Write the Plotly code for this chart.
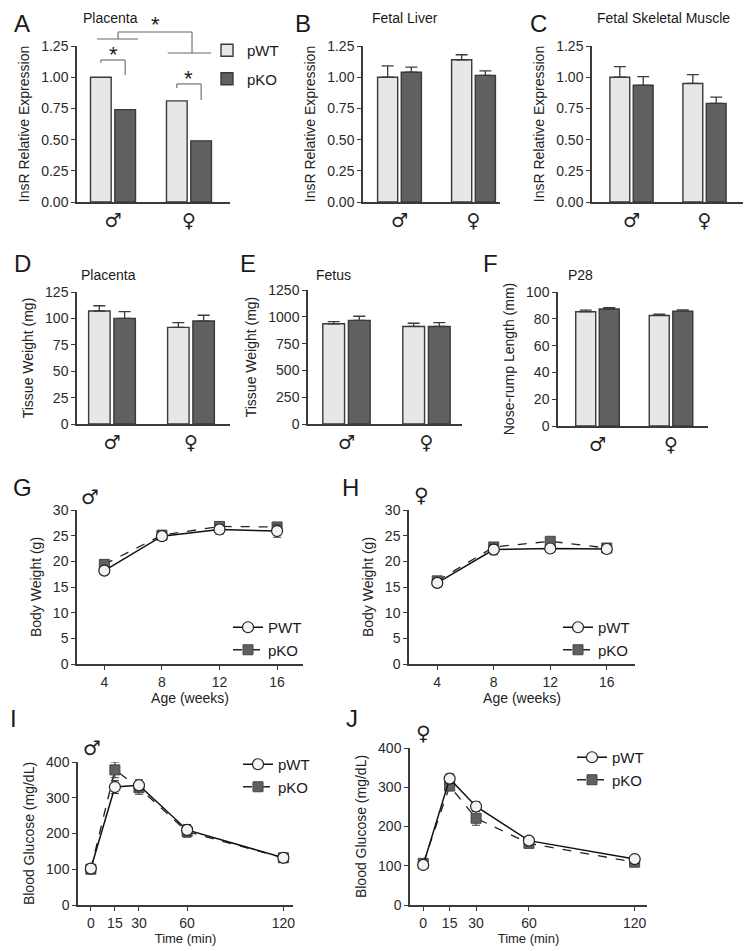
import plotly.graph_objects as go

W, H = 751, 951
OFF = 8  # page body margin that shifts the figure on screen

# ---- data ----
sexes = [0, 1]
sex_labels = ["♂", "♀"]

# A: placenta InsR
a_wt = [1.00, 0.81]
a_ko = [0.74, 0.49]
# B: fetal liver
b_wt = [1.00, 1.14]
b_wt_err = [0.09, 0.04]
b_ko = [1.04, 1.015]
b_ko_err = [0.04, 0.035]
# C: fetal skeletal muscle
c_wt = [1.00, 0.95]
c_wt_err = [0.085, 0.07]
c_ko = [0.935, 0.79]
c_ko_err = [0.07, 0.05]
# D: placenta weight
d_wt = [107, 91.5]
d_wt_err = [5, 4.5]
d_ko = [100, 97.5]
d_ko_err = [6.5, 5.5]
# E: fetus weight
e_wt = [935, 910]
e_wt_err = [20, 30]
e_ko = [967, 910]
e_ko_err = [38, 35]
# F: P28 nose-rump
f_wt = [85.3, 82.5]
f_wt_err = [1.2, 0.9]
f_ko = [87.3, 85.6]
f_ko_err = [1.0, 1.0]

weeks = [4, 8, 12, 16]
g_wt = [18.2, 24.9, 26.2, 25.9]
g_wt_err = [0.5, 0.5, 0.9, 1.2]
g_ko = [19.4, 25.1, 26.8, 26.7]
g_ko_err = [0.4, 0.4, 0.4, 0.4]
h_wt = [15.8, 22.3, 22.5, 22.4]
h_wt_err = [0.4, 1.0, 0.3, 0.3]
h_ko = [16.2, 22.8, 23.9, 22.6]
h_ko_err = [0.4, 0.4, 0.4, 0.4]

minutes = [0, 15, 30, 60, 120]
i_wt = [102, 330, 335, 210, 132]
i_wt_err = [8, 18, 15, 15, 8]
i_ko = [100, 378, 328, 205, 132]
i_ko_err = [6, 22, 18, 15, 8]
j_wt = [102, 322, 251, 164, 117]
j_wt_err = [6, 12, 12, 6, 6]
j_ko = [106, 303, 221, 157, 109]
j_ko_err = [6, 10, 18, 6, 6]

WT_COL = "#e6e7e8"
KO_COL = "#5f6061"
AX_COL = "#3a3a3a"
FONT = "Liberation Sans, Arial, sans-serif"

# panel boxes in screen pixels: x0, x1, y_top, y_bottom
panels = {
    "A": dict(box=(77, 230, 46, 202), xr=[-0.474, 1.54], yr=[0, 1.25]),
    "B": dict(box=(363, 500, 46, 202), xr=[-0.493, 1.358], yr=[0, 1.25]),
    "C": dict(box=(592, 743, 46, 202), xr=[-0.541, 1.527], yr=[0, 1.25]),
    "D": dict(box=(77, 230, 292, 424), xr=[-0.443, 1.494], yr=[0, 125]),
    "E": dict(box=(308, 462, 290, 424), xr=[-0.481, 1.444], yr=[0, 1250]),
    "F": dict(box=(558, 708, 292, 426), xr=[-0.537, 1.503], yr=[0, 100]),
    "G": dict(box=(77, 303, 510, 664), xr=[2.1, 17.8], yr=[0, 30]),
    "H": dict(box=(409, 635, 510, 664), xr=[2.0, 18.0], yr=[0, 30]),
    "I": dict(box=(78, 293, 762, 905), xr=[-8, 126], yr=[0, 400]),
    "J": dict(box=(410, 647, 748, 905), xr=[-7.5, 127], yr=[0, 400]),
}
order = list(panels.keys())


def px(x):
    return (x - OFF) / W


def py(y):
    return 1 - (y - OFF) / H


def dom(p):
    x0, x1, yt, yb = p["box"]
    return [px(x0), px(x1)], [py(yb), py(yt)]


def to_paper(p, xv, yv):
    (dx0, dx1), (dy0, dy1) = dom(p)
    r0, r1 = p["xr"]
    s0, s1 = p["yr"]
    return (dx0 + (xv - r0) / (r1 - r0) * (dx1 - dx0),
            dy0 + (yv - s0) / (s1 - s0) * (dy1 - dy0))


def ax_names(k):
    return ("x" if k == 1 else "x%d" % k), ("y" if k == 1 else "y%d" % k)


fig = go.Figure()

bar_sets = {
    "A": (a_wt, None, a_ko, None),
    "B": (b_wt, b_wt_err, b_ko, b_ko_err),
    "C": (c_wt, c_wt_err, c_ko, c_ko_err),
    "D": (d_wt, d_wt_err, d_ko, d_ko_err),
    "E": (e_wt, e_wt_err, e_ko, e_ko_err),
    "F": (f_wt, f_wt_err, f_ko, f_ko_err),
}

for name, (wt, wt_err, ko, ko_err) in bar_sets.items():
    k = order.index(name) + 1
    xa, ya = ax_names(k)
    for label, vals, err, col in [("pWT", wt, wt_err, WT_COL), ("pKO", ko, ko_err, KO_COL)]:
        eb = None
        if err is not None:
            eb = dict(type="data", array=err, arrayminus=[0] * len(err), symmetric=False,
                      color=AX_COL, thickness=1.3, width=6)
        fig.add_trace(go.Bar(
            x=sexes, y=vals, name=label, xaxis=xa, yaxis=ya,
            marker=dict(color=col, line=dict(color=AX_COL, width=1.4)),
            error_y=eb, showlegend=(name == "A"), legend="legend",
            legendgroup=label,
        ))

line_sets = {
    "G": (weeks, g_wt, g_wt_err, g_ko, g_ko_err, "legend2", "PWT"),
    "H": (weeks, h_wt, h_wt_err, h_ko, h_ko_err, "legend3", "pWT"),
    "I": (minutes, i_wt, i_wt_err, i_ko, i_ko_err, "legend4", "pWT"),
    "J": (minutes, j_wt, j_wt_err, j_ko, j_ko_err, "legend5", "pWT"),
}

for name, (xs, wt, wt_err, ko, ko_err, leg, wt_name) in line_sets.items():
    k = order.index(name) + 1
    xa, ya = ax_names(k)
    fig.add_trace(go.Scatter(
        x=xs, y=ko, name="pKO", xaxis=xa, yaxis=ya, mode="lines+markers",
        line=dict(color="#222222", width=1.3, dash="dash"),
        marker=dict(symbol="square", size=10, color=KO_COL, line=dict(color="#444444", width=1)),
        error_y=dict(type="data", array=ko_err, color=AX_COL, thickness=1.1, width=4),
        legend=leg, legendrank=2,
    ))
    fig.add_trace(go.Scatter(
        x=xs, y=wt, name=wt_name, xaxis=xa, yaxis=ya, mode="lines+markers",
        line=dict(color="#111111", width=1.5),
        marker=dict(symbol="circle", size=11, color="#f4f4f4", line=dict(color="#222222", width=1.2)),
        error_y=dict(type="data", array=wt_err, color=AX_COL, thickness=1.1, width=4),
        legend=leg, legendrank=1,
    ))

axis_common = dict(showline=True, linecolor=AX_COL, linewidth=1.5, showgrid=False,
                   zeroline=False, tickfont=dict(family=FONT, size=14, color="#2a2a2a"),
                   ticks="outside", ticklen=4, tickwidth=1.3, tickcolor=AX_COL)

ytitles = {
    "A": "InsR Relative Expression", "B": "InsR Relative Expression",
    "C": "InsR Relative Expression", "D": "Tissue Weight (mg)",
    "E": "Tissue Weight (mg)", "F": "Nose-rump Length (mm)",
    "G": "Body Weight (g)", "H": "Body Weight (g)",
    "I": "Blood Glucose (mg/dL)", "J": "Blood Glucose (mg/dL)",
}
ytickvals = {
    "A": [0, 0.25, 0.5, 0.75, 1.0, 1.25], "B": [0, 0.25, 0.5, 0.75, 1.0, 1.25],
    "C": [0, 0.25, 0.5, 0.75, 1.0, 1.25], "D": [0, 25, 50, 75, 100, 125],
    "E": [0, 250, 500, 750, 1000, 1250], "F": [0, 20, 40, 60, 80, 100],
    "G": [0, 5, 10, 15, 20, 25, 30], "H": [0, 5, 10, 15, 20, 25, 30],
    "I": [0, 100, 200, 300, 400], "J": [0, 100, 200, 300, 400],
}

layout_axes = {}
for k, name in enumerate(order, start=1):
    p = panels[name]
    xd, yd = dom(p)
    xa, ya = ax_names(k)
    xkey = "xaxis" if k == 1 else "xaxis%d" % k
    ykey = "yaxis" if k == 1 else "yaxis%d" % k
    xax = dict(axis_common, domain=xd, range=p["xr"], anchor=ya)
    if name in bar_sets:
        xax.update(tickvals=sexes, ticktext=sex_labels, ticks="",
                   tickfont=dict(family="DejaVu Sans", size=19, color="#222"))
    elif name in ("G", "H"):
        xax.update(tickvals=weeks, title=dict(text="Age (weeks)", standoff=0,
                                              font=dict(family=FONT, size=14, color="#222")))
    else:
        xax.update(tickvals=minutes, title=dict(text="Time (min)", standoff=1,
                                                font=dict(family=FONT, size=13, color="#222")))
    yfmt = ".2f" if name in ("A", "B", "C") else ""
    yax = dict(axis_common, domain=yd, range=p["yr"], anchor=xa, tickvals=ytickvals[name],
               tickformat=yfmt,
               title=dict(text=ytitles[name], standoff=8,
                          font=dict(family=FONT, size=14, color="#222")))
    layout_axes[xkey] = xax
    layout_axes[ykey] = yax

annotations = []
# panel letters (top row anchored to the figure top so nothing gets clipped)
letters = {"D": (22, 263), "E": (248, 263), "F": (490, 263),
           "G": (22, 487), "H": (350, 487), "I": (13, 718), "J": (352, 718)}
for t, (lx, ly) in letters.items():
    annotations.append(dict(text=t, x=px(lx), y=py(ly), xref="paper", yref="paper",
                            showarrow=False, xanchor="center", yanchor="middle",
                            font=dict(family=FONT, size=24, color="#1a1a1a")))
for t, lx in [("A", 22), ("B", 303), ("C", 538)]:
    annotations.append(dict(text=t, x=px(lx), y=1.0, xref="paper", yref="paper",
                            showarrow=False, xanchor="center", yanchor="top",
                            font=dict(family=FONT, size=24, color="#1a1a1a")))
# panel titles
titles = [("Placenta", 110, 18), ("Fetal Liver", 405, 18), ("Fetal Skeletal Muscle", 663, 18),
          ("Placenta", 108, 275), ("Fetus", 333, 275), ("P28", 580, 275)]
for t, tx, ty in titles:
    annotations.append(dict(text=t, x=px(tx), y=py(ty), xref="paper", yref="paper",
                            showarrow=False, xanchor="center", yanchor="middle",
                            font=dict(family=FONT, size=14, color="#1a1a1a")))
# sex symbols over line charts
for t, sx, sy in [("♂", 90, 497), ("♀", 421, 495), ("♂", 92, 748), ("♀", 423, 733)]:
    annotations.append(dict(text=t, x=px(sx), y=py(sy), xref="paper", yref="paper",
                            showarrow=False, xanchor="center", yanchor="middle",
                            font=dict(family="DejaVu Sans", size=20, color="#222")))

# significance brackets for panel A (data units)
pa = panels["A"]
brackets = [
    ([-0.16, -0.16, 0.16, 0.16], [1.115, 1.138, 1.138, 1.017]),
    ([0.84, 0.84, 1.16, 1.16], [0.914, 0.946, 0.946, 0.817]),
    ([-0.21, 0.33], [1.306, 1.306]),
    ([0.066, 0.066, 1.04, 1.04], [1.306, 1.362, 1.362, 1.194]),
    ([0.72, 1.29], [1.194, 1.194]),
]
stars = [(0.0, 1.185), (1.0, 0.99), (0.553, 1.42)]

shapes = []
for bx, by in brackets:
    pts = [to_paper(pa, u, v) for u, v in zip(bx, by)]
    for (x0, y0), (x1, y1) in zip(pts[:-1], pts[1:]):
        shapes.append(dict(type="line", xref="paper", yref="paper", x0=x0, y0=y0, x1=x1, y1=y1,
                           line=dict(color="#666666", width=1.1)))
for sx, sy in stars:
    sxp, syp = to_paper(pa, sx, sy)
    annotations.append(dict(text="*", x=sxp, y=syp, xref="paper", yref="paper", showarrow=False,
                            xanchor="center", yanchor="middle",
                            font=dict(family=FONT, size=22, color="#1a1a1a")))

leg_common = dict(bgcolor="rgba(0,0,0,0)", font=dict(family=FONT, size=15, color="#1a1a1a"),
                  xanchor="left", yanchor="top", itemwidth=30, tracegroupgap=0)

fig.update_layout(
    width=W, height=H, margin=dict(l=0, r=0, t=0, b=0, pad=0, autoexpand=False),
    paper_bgcolor="white", plot_bgcolor="white",
    barmode="group", bargap=0.36, bargroupgap=0.15,
    font=dict(family=FONT, color="#1a1a1a"),
    annotations=annotations, shapes=shapes,
    legend=dict(leg_common, x=px(207), y=py(34), tracegroupgap=6),
    legend2=dict(leg_common, x=px(228), y=py(611)),
    legend3=dict(leg_common, x=px(558), y=py(611)),
    legend4=dict(leg_common, x=px(238), y=py(748)),
    legend5=dict(leg_common, x=px(572), y=py(741)),
    **layout_axes,
)

fig.write_html("out.html")
